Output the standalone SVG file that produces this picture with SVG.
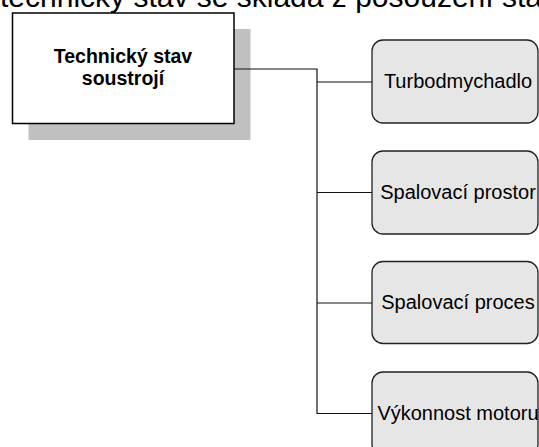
<svg xmlns="http://www.w3.org/2000/svg" width="539" height="447" viewBox="0 0 539 447">
<style>
.title{font-family:"Liberation Sans",Arial,sans-serif;font-size:30px;fill:#000}
.main{font-family:"Liberation Sans",Arial,sans-serif;font-size:19.5px;font-weight:bold;fill:#000;text-anchor:middle}
.lbl{font-family:"Liberation Sans",Arial,sans-serif;font-size:20px;fill:#000;text-anchor:middle}
.node{fill:#e6e6e6;stroke:#222;stroke-width:1.3}
.conn{fill:none;stroke:#111;stroke-width:1.2}
</style>
<rect width="539" height="447" fill="#fff"/>
<text class="title" x="0" y="6.5">technický stav se skládá z posouzení sta</text>
<g id="root">
<rect x="28.5" y="29" width="222" height="111" fill="#c0c0c0"/>
<rect x="12.5" y="13" width="221.5" height="110.5" fill="#fff" stroke="#000" stroke-width="1.5"/>
<text class="main" x="123" y="63.3">Technický stav</text>
<text class="main" x="123" y="85">soustrojí</text>
</g>
<g id="connectors">
<path class="conn" d="M234,69 H317 V413.5 H372"/>
<path class="conn" d="M317,82 H372"/>
<path class="conn" d="M317,192.5 H372"/>
<path class="conn" d="M317,303 H372"/>
</g>
<g id="n1">
<rect class="node" x="372" y="40" width="166" height="83" rx="11"/>
<text class="lbl" x="458" y="87.5">Turbodmychadlo</text>
</g>
<g id="n2">
<rect class="node" x="372" y="151" width="166" height="83" rx="11"/>
<text class="lbl" x="458" y="199">Spalovací prostor</text>
</g>
<g id="n3">
<rect class="node" x="372" y="261.5" width="166" height="82" rx="11"/>
<text class="lbl" x="458" y="309">Spalovací proces</text>
</g>
<g id="n4">
<rect class="node" x="372" y="372" width="166" height="83" rx="11"/>
<text class="lbl" x="458" y="420">Výkonnost motoru</text>
</g>
</svg>
